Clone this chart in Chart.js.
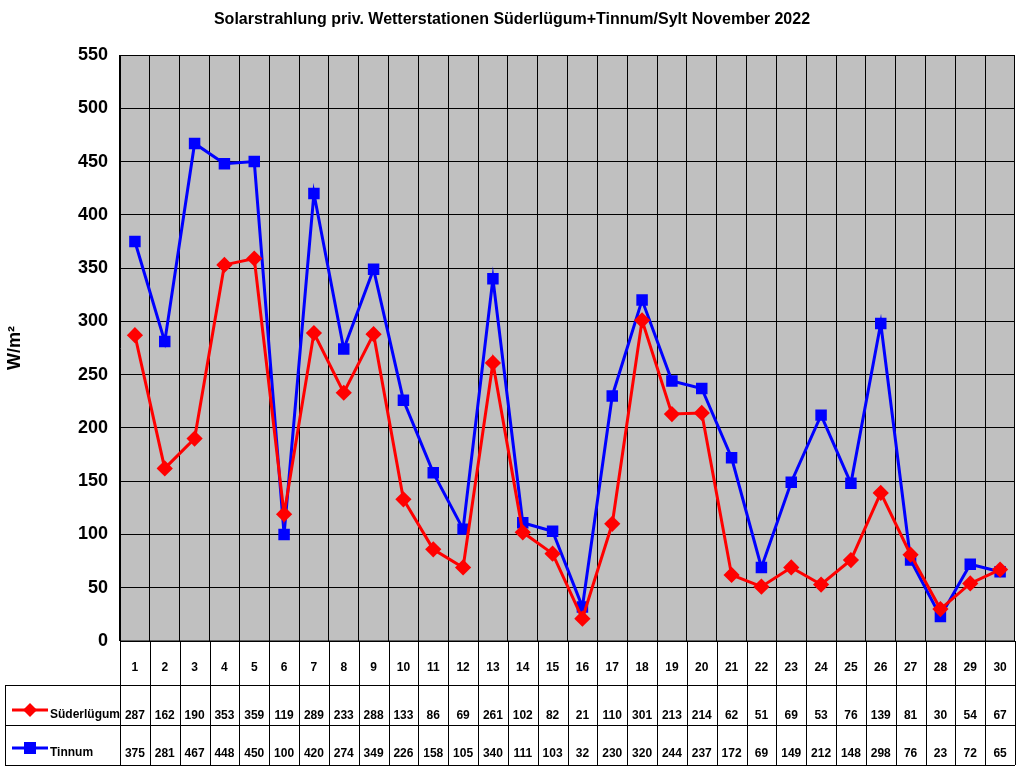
<!DOCTYPE html>
<html><head><meta charset="utf-8">
<script src="https://cdn.jsdelivr.net/npm/chart.js@4"></script>
<style>body{margin:0;background:#fff}</style>
</head><body>
<canvas id="c" width="1024" height="768"></canvas>
<script>
const days = Array.from({length: 30}, (_, i) => String(i + 1));
const suederluegum = [287,162,190,353,359,119,289,233,288,133,86,69,261,102,82,21,110,301,213,214,62,51,69,53,76,139,81,30,54,67];
const tinnum = [375,281,467,448,450,100,420,274,349,226,158,105,340,111,103,32,230,320,244,237,172,69,149,212,148,298,76,23,72,65];
const yTicks = [0,50,100,150,200,250,300,350,400,450,500,550];

const font = 'bold 12px Arial, "Liberation Sans", sans-serif';

const tablePlugin = {
    id: 'table',
    beforeDraw(chart) {
        const c = chart.ctx, a = chart.chartArea;
        c.save();
        c.fillStyle = '#C0C0C0';
        c.fillRect(a.left, a.top, a.right - a.left, a.bottom - a.top);
        c.restore();
    },
    afterDraw(chart) {
        const c = chart.ctx, a = chart.chartArea, x = chart.scales.x;
        const rows = [a.bottom, 685, 725, 765];
        const colW = (a.right - a.left) / days.length;
        c.save();
        // title
        c.fillStyle = '#000';
        c.font = 'bold 16px Arial, "Liberation Sans", sans-serif';
        c.textAlign = 'center';
        c.textBaseline = 'middle';
        c.fillText('Solarstrahlung priv. Wetterstationen Süderlügum+Tinnum/Sylt November 2022', 512, 20);
        // grid of table
        c.strokeStyle = '#000';
        c.lineWidth = 1;
        c.beginPath();
        c.moveTo(a.left, rows[0]); c.lineTo(a.right, rows[0]);
        for (let r = 1; r < 4; r++) { c.moveTo(5, rows[r] + 0.5); c.lineTo(a.right, rows[r] + 0.5); }
        c.moveTo(5.5, rows[1]); c.lineTo(5.5, rows[3]);
        for (let i = 0; i <= days.length; i++) {
            const xx = Math.round(a.left + i * colW) + 0.5;
            c.moveTo(xx, rows[0]); c.lineTo(xx, rows[3]);
        }
        c.stroke();
        // cell text
        c.font = font;
        days.forEach((d, i) => {
            const cx = x.getPixelForValue(i);
            c.fillText(d, cx, 668);
            c.fillText(String(suederluegum[i]), cx, 716);
            c.fillText(String(tinnum[i]), cx, 754);
        });
        // legend keys
        const keys = [['Süderlügum', '#FF0000', 'rectRot', 710], ['Tinnum', '#0000FF', 'rect', 748]];
        keys.forEach(([name, col, style, y]) => {
            c.strokeStyle = col; c.lineWidth = 3;
            c.beginPath(); c.moveTo(12, y); c.lineTo(48, y); c.stroke();
            c.fillStyle = col;
            if (style === 'rect') c.fillRect(24, y - 6, 12, 12);
            else { c.beginPath(); c.moveTo(30, y - 7); c.lineTo(37, y); c.lineTo(30, y + 7); c.lineTo(23, y); c.closePath(); c.fill(); }
            c.fillStyle = '#000'; c.textAlign = 'left';
            c.fillText(name, 50, y + 5);
        });
        c.restore();
    }
};

new Chart(document.getElementById('c'), {
    type: 'line',
    data: {
        labels: days,
        datasets: [
            { label: 'Süderlügum', data: suederluegum, borderColor: '#FF0000', backgroundColor: '#FF0000',
              borderWidth: 3, pointStyle: 'rectRot', pointRadius: 6, tension: 0 },
            { label: 'Tinnum', data: tinnum, borderColor: '#0000FF', backgroundColor: '#0000FF',
              borderWidth: 3, pointStyle: 'rect', pointRadius: 6, tension: 0 }
        ]
    },
    options: {
        responsive: false,
        animation: false,
        layout: { padding: { top: 55, right: 4, left: 0, bottom: 0 } },
        plugins: { legend: { display: false }, tooltip: { enabled: false } },
        scales: {
            x: {
                offset: true,
                grid: { offset: true, color: '#000', drawTicks: false },
                border: { color: '#000' },
                ticks: { display: false },
                afterFit(s) { s.height = 127; }
            },
            y: {
                min: 0, max: 550,
                afterBuildTicks(s) { s.ticks = yTicks.map(v => ({ value: v })); },
                grid: { color: '#000', drawTicks: false },
                border: { color: '#000' },
                ticks: { color: '#000', padding: 12, font: { family: 'Arial, "Liberation Sans"', size: 18, weight: 'bold' } },
                title: { display: true, text: 'W/m²', color: '#000', font: { family: 'Arial, "Liberation Sans"', size: 18, weight: 'bold' } },
                afterFit(s) { s.width = 120; }
            }
        }
    },
    plugins: [tablePlugin]
});
</script>
</body></html>
